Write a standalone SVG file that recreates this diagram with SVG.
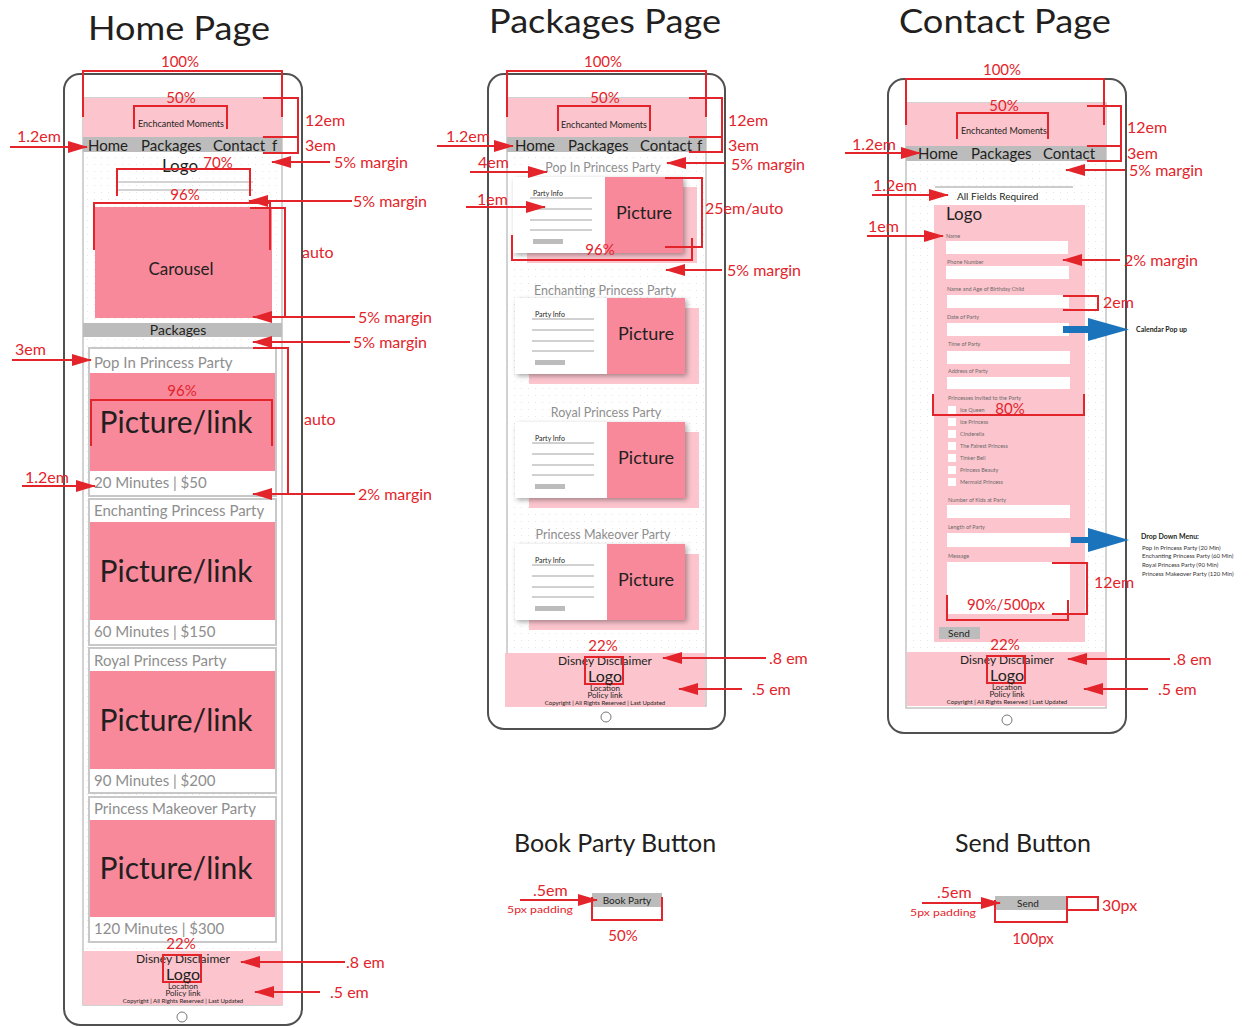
<svg xmlns="http://www.w3.org/2000/svg" xmlns:xlink="http://www.w3.org/1999/xlink" width="1252" height="1027" viewBox="0 0 1252 1027">
  <style>
    text { font-family: Lato, "Liberation Sans", sans-serif; fill: #231f20; }
    .title { font-size: 33px; text-anchor: middle; }
    .ann { fill: #e3242b; font-size: 16px; }
    .annc { fill: #e3242b; font-size: 15px; text-anchor: middle; }
    .pad { fill: #e3242b; font-size: 9px; }
    .dim { fill: none; stroke: #e3242b; stroke-width: 2; }
    .arrow { fill: none; stroke: #e3242b; stroke-width: 2; marker-end: url(#head); }
    .phone { fill: #fff; stroke: #505050; stroke-width: 2; }
    .screen { fill: url(#dots); stroke: #c4c4c4; stroke-width: 1.5; }
    .header { fill: #fcc4cd; }
    .nav { fill: #bcbcbc; }
    .navtxt { font-size: 15px; }
    .brand { font-size: 9px; text-anchor: middle; }
    .pink { fill: #f8899b; }
    .card { fill: #fff; stroke: #c8c8c8; stroke-width: 2; }
    .ctitle { fill: #8e8e8e; font-size: 15px; }
    .ptitle { fill: #8e8e8e; font-size: 12.5px; text-anchor: middle; }
    .piclink { font-size: 30px; text-anchor: middle; }
    .flabel { fill: #6b6b6b; font-size: 5.5px; }
    .field { fill: #fff; }
    .blue { fill: #1b74bb; }
    .note { font-size: 6px; fill: #333; }
  </style>
  <defs>
    <pattern id="dots" width="7" height="7" patternUnits="userSpaceOnUse">
      <rect width="7" height="7" fill="#fff"/>
      <circle cx="3.5" cy="3.5" r="0.6" fill="#e2e2e2"/>
    </pattern>
    <marker id="head" markerWidth="20" markerHeight="12" refX="19" refY="6" orient="auto" markerUnits="userSpaceOnUse">
      <path d="M0,0 L20,6 L0,12 Z" fill="#e3242b"/>
    </marker>
    <filter id="cardShadow" x="-20%" y="-20%" width="150%" height="150%">
      <feDropShadow dx="2" dy="2" stdDeviation="2.5" flood-color="#000" flood-opacity="0.35"/>
    </filter>
    <!-- package card: info panel, picture, offset pink backing -->
    <g id="pkgCard">
      <rect x="14" y="10" width="170" height="76" fill="#fcc4cd"/>
      <rect x="0" y="0" width="170" height="76" fill="#fff" filter="url(#cardShadow)"/>
      <rect x="92" y="0" width="78" height="76" class="pink"/>
      <text x="20" y="19" font-size="7">Party Info</text>
      <g stroke="#8a8a8a" stroke-width="0.8">
        <line x1="17" y1="21" x2="79" y2="21"/>
        <line x1="17" y1="32" x2="79" y2="32"/>
        <line x1="17" y1="43" x2="79" y2="43"/>
        <line x1="17" y1="53" x2="79" y2="53"/>
      </g>
      <rect x="20" y="62" width="30" height="5" fill="#bcbcbc"/>
      <text x="131" y="42" font-size="18" text-anchor="middle">Picture</text>
    </g>
    <!-- shared page footer -->
    <g id="footer">
      <rect x="0" y="0" width="200" height="54" fill="#fcc4cd"/>
      <text x="98" y="-2" class="annc" font-size="14">22%</text>
      <text x="100" y="12" font-size="12" text-anchor="middle">Disney Disclaimer</text>
      <rect x="80" y="4" width="38" height="27" class="dim"/>
      <text x="100" y="29" font-size="16" text-anchor="middle">Logo</text>
      <text x="100" y="38" font-size="8" text-anchor="middle">Location</text>
      <text x="100" y="45" font-size="8" text-anchor="middle">Policy link</text>
      <text x="100" y="52" font-size="6" text-anchor="middle">Copyright | All Rights Reserved | Last Updated</text>
    </g>
  </defs>

  <rect width="1252" height="1027" fill="#fff"/>

  <!-- ============ HOME PAGE ============ -->
  <g id="home-page">
    <text x="179" y="40" class="title" textLength="182" lengthAdjust="spacingAndGlyphs">Home Page</text>
    <rect x="64" y="74" width="238" height="951" rx="16" class="phone"/>
    <rect x="83" y="98" width="199" height="907" class="screen"/>
    <rect x="83" y="98" width="199" height="39" class="header"/>
    <text x="181" y="127" class="brand">Enchcanted Moments</text>
    <rect x="83" y="137" width="199" height="15" class="nav"/>
    <text x="88" y="151" class="navtxt">Home</text>
    <text x="141" y="151" class="navtxt">Packages</text>
    <text x="213" y="151" class="navtxt">Contact</text>
    <text x="272" y="151" class="navtxt">f</text>
    <text x="180" y="172" font-size="17" text-anchor="middle">Logo</text>
    <g stroke="#a8a8a8" stroke-width="1">
      <line x1="117" y1="182" x2="253" y2="182"/>
      <line x1="117" y1="190" x2="253" y2="190"/>
    </g>
    <rect x="95" y="207" width="177" height="111" class="pink"/>
    <text x="181" y="275" font-size="17" text-anchor="middle">Carousel</text>
    <rect x="83" y="323" width="199" height="14" class="nav"/>
    <text x="178" y="335" font-size="14" text-anchor="middle">Packages</text>

    <g id="home-card-1">
      <rect x="89" y="348" width="187" height="148" class="card"/>
      <text x="94" y="368" class="ctitle">Pop In Princess Party</text>
      <rect x="90" y="373" width="185" height="98" class="pink"/>
      <text x="176" y="433" class="piclink">Picture/link</text>
      <text x="94" y="488" class="ctitle" font-size="14">20 Minutes | $50</text>
    </g>
    <g id="home-card-2">
      <rect x="89" y="499" width="187" height="146" class="card"/>
      <text x="94" y="516" class="ctitle">Enchanting Princess Party</text>
      <rect x="90" y="522" width="185" height="98" class="pink"/>
      <text x="176" y="582" class="piclink">Picture/link</text>
      <text x="94" y="637" class="ctitle" font-size="14">60 Minutes | $150</text>
    </g>
    <g id="home-card-3">
      <rect x="89" y="648" width="187" height="145" class="card"/>
      <text x="94" y="666" class="ctitle">Royal Princess Party</text>
      <rect x="90" y="671" width="185" height="98" class="pink"/>
      <text x="176" y="731" class="piclink">Picture/link</text>
      <text x="94" y="786" class="ctitle" font-size="14">90 Minutes | $200</text>
    </g>
    <g id="home-card-4">
      <rect x="89" y="797" width="187" height="145" class="card"/>
      <text x="94" y="814" class="ctitle">Princess Makeover Party</text>
      <rect x="90" y="820" width="185" height="97" class="pink"/>
      <text x="176" y="879" class="piclink">Picture/link</text>
      <text x="94" y="934" class="ctitle" font-size="14">120 Minutes | $300</text>
    </g>
    <use href="#footer" x="83" y="951"/>
    <circle cx="182" cy="1017" r="5" fill="none" stroke="#777" stroke-width="1"/>
  </g>

  <!-- ============ PACKAGES PAGE ============ -->
  <g id="packages-page">
    <text x="605" y="33" class="title" textLength="232" lengthAdjust="spacingAndGlyphs">Packages Page</text>
    <rect x="488" y="74" width="237" height="655" rx="16" class="phone"/>
    <rect x="507" y="98" width="199" height="608" class="screen"/>
    <rect x="507" y="98" width="199" height="39" class="header"/>
    <text x="604" y="128" class="brand">Enchcanted Moments</text>
    <rect x="507" y="137" width="199" height="15" class="nav"/>
    <text x="515" y="151" class="navtxt">Home</text>
    <text x="568" y="151" class="navtxt">Packages</text>
    <text x="640" y="151" class="navtxt">Contact</text>
    <text x="697" y="151" class="navtxt">f</text>

    <text x="603" y="172" class="ptitle">Pop In Princess Party</text>
    <use href="#pkgCard" x="513" y="177"/>
    <text x="605" y="295" class="ptitle">Enchanting Princess Party</text>
    <use href="#pkgCard" x="515" y="298"/>
    <text x="606" y="417" class="ptitle">Royal Princess Party</text>
    <use href="#pkgCard" x="515" y="422"/>
    <text x="603" y="539" class="ptitle">Princess Makeover Party</text>
    <use href="#pkgCard" x="515" y="544"/>

    <use href="#footer" x="505" y="653"/>
    <circle cx="606" cy="717" r="5" fill="none" stroke="#777" stroke-width="1"/>
  </g>

  <!-- ============ CONTACT PAGE ============ -->
  <g id="contact-page">
    <text x="1005" y="33" class="title" textLength="212" lengthAdjust="spacingAndGlyphs">Contact Page</text>
    <rect x="888" y="79" width="238" height="654" rx="16" class="phone"/>
    <rect x="906" y="103" width="200" height="605" class="screen"/>
    <rect x="906" y="103" width="200" height="43" class="header"/>
    <text x="1004" y="134" class="brand">Enchcanted Moments</text>
    <rect x="906" y="146" width="200" height="15" class="nav"/>
    <text x="918" y="159" class="navtxt">Home</text>
    <text x="971" y="159" class="navtxt">Packages</text>
    <text x="1043" y="159" class="navtxt">Contact</text>
    <line x1="935" y1="187" x2="1073" y2="187" stroke="#9a9a9a" stroke-width="1"/>
    <text x="957" y="200" font-size="10">All Fields Required</text>

    <g id="contact-form">
      <rect x="934" y="205" width="151" height="437" fill="#fcc4cd"/>
      <text x="946" y="220" font-size="17">Logo</text>
      <text x="946" y="238" class="flabel">Name</text>
      <rect x="946" y="241" width="122" height="13" class="field"/>
      <text x="947" y="264" class="flabel">Phone Number</text>
      <rect x="946" y="266" width="123" height="13" class="field"/>
      <text x="947" y="291" class="flabel">Name and Age of Birthday Child</text>
      <rect x="947" y="295" width="122" height="13" class="field"/>
      <text x="947" y="319" class="flabel">Date of Party</text>
      <rect x="947" y="323" width="122" height="13" class="field"/>
      <text x="948" y="346" class="flabel">Time of Party</text>
      <rect x="947" y="351" width="123" height="13" class="field"/>
      <text x="948" y="373" class="flabel">Address of Party</text>
      <rect x="947" y="377" width="123" height="12" class="field"/>
      <text x="948" y="400" class="flabel">Princesses Invited to the Party</text>
      <g class="field">
        <rect x="948" y="406" width="8" height="8"/>
        <rect x="948" y="418" width="8" height="8"/>
        <rect x="948" y="430" width="8" height="8"/>
        <rect x="948" y="442" width="8" height="8"/>
        <rect x="948" y="454" width="8" height="8"/>
        <rect x="948" y="466" width="8" height="8"/>
        <rect x="948" y="478" width="8" height="8"/>
      </g>
      <text x="960" y="412" class="flabel">Ice Queen</text>
      <text x="960" y="424" class="flabel">Ice Princess</text>
      <text x="960" y="436" class="flabel">Cinderella</text>
      <text x="960" y="448" class="flabel">The Fairest Princess</text>
      <text x="960" y="460" class="flabel">Tinker Bell</text>
      <text x="960" y="472" class="flabel">Princess Beauty</text>
      <text x="960" y="484" class="flabel">Mermaid Princess</text>
      <text x="948" y="502" class="flabel">Number of Kids at Party</text>
      <rect x="947" y="505" width="123" height="13" class="field"/>
      <text x="948" y="529" class="flabel">Length of Party</text>
      <rect x="947" y="533" width="123" height="14" class="field"/>
      <text x="948" y="558" class="flabel">Message</text>
      <rect x="947" y="562" width="123" height="52" class="field"/>
      <rect x="939" y="627" width="41" height="12" class="nav"/>
      <text x="959" y="636.5" font-size="10" text-anchor="middle">Send</text>
    </g>

    <use href="#footer" x="907" y="652"/>
    <circle cx="1007" cy="720" r="5" fill="none" stroke="#777" stroke-width="1"/>

    <g id="calendar-note">
      <rect x="1063" y="326" width="30" height="7" class="blue"/>
      <path d="M1088,318 L1129,329.5 L1088,341 Z" class="blue"/>
      <text x="1136" y="332" font-size="7" font-weight="bold">Calendar Pop up</text>
    </g>
    <g id="dropdown-note">
      <rect x="1071" y="537" width="20" height="6" class="blue"/>
      <path d="M1088,528 L1129,540 L1088,552 Z" class="blue"/>
      <text x="1141" y="539" font-size="7" font-weight="bold">Drop Down Menu:</text>
      <text x="1142" y="550" class="note" font-size="5.5">Pop In Princess Party (20 Min)</text>
      <text x="1142" y="558" class="note" font-size="5.5">Enchanting Princess Party (60 Min)</text>
      <text x="1142" y="567" class="note" font-size="5.5">Royal Princess Party (90 Min)</text>
      <text x="1142" y="576" class="note" font-size="5.5">Princess Makeover Party (120 Min)</text>
    </g>
  </g>

  <!-- ============ BUTTON SPECS ============ -->
  <g id="book-party-button">
    <text x="615" y="852" font-size="25" text-anchor="middle">Book Party Button</text>
    <rect x="592" y="893" width="70" height="14" class="nav"/>
    <text x="627" y="903.5" font-size="10" text-anchor="middle">Book Party</text>
  </g>
  <g id="send-button">
    <text x="1023" y="852" font-size="25" text-anchor="middle">Send Button</text>
    <rect x="995" y="896" width="72" height="14" class="nav"/>
    <text x="1028" y="907" font-size="10" text-anchor="middle">Send</text>
  </g>

  <!-- ============ DIMENSION BRACKETS & LABELS ============ -->
  <g id="dimensions">
    <!-- home -->
    <path class="dim" d="M83,117 V71 H282 V117"/>
    <text x="180" y="67" class="annc">100%</text>
    <path class="dim" d="M134,129 V106 H227 V129"/>
    <text x="181" y="103" class="annc">50%</text>
    <path class="dim" d="M263,98 H298 V153 H263 M263,137 H298"/>
    <text x="305" y="126" class="ann">12em</text>
    <text x="305" y="151" class="ann">3em</text>
    <path class="dim" d="M117,196 V169 H250 V196"/>
    <text x="218" y="168" class="annc" font-size="14">70%</text>
    <path class="dim" d="M94,250 V203 H270 V250"/>
    <text x="185" y="200" class="annc">96%</text>
    <path class="dim" d="M250,208 H285 V316"/>
    <text x="302" y="258" class="ann">auto</text>
    <path class="dim" d="M91,446 V400 H272 V446"/>
    <text x="182" y="396" class="annc">96%</text>
    <path class="dim" d="M253,348 H288 V494"/>
    <text x="304" y="425" class="ann">auto</text>
    <text x="17" y="142" class="ann">1.2em</text>
    <text x="15" y="355" class="ann">3em</text>
    <text x="25" y="483" class="ann">1.2em</text>
    <text x="334" y="168" class="ann">5% margin</text>
    <text x="353" y="207" class="ann">5% margin</text>
    <text x="358" y="323" class="ann">5% margin</text>
    <text x="353" y="348" class="ann">5% margin</text>
    <text x="358" y="500" class="ann">2% margin</text>
    <text x="346" y="968" class="ann">.8 em</text>
    <text x="330" y="998" class="ann">.5 em</text>

    <!-- packages -->
    <path class="dim" d="M507,117 V71 H706 V117"/>
    <text x="603" y="67" class="annc">100%</text>
    <path class="dim" d="M558,131 V106 H650 V131"/>
    <text x="605" y="103" class="annc">50%</text>
    <path class="dim" d="M689,98 H722 V152 H689 M689,137 H722"/>
    <text x="728" y="126" class="ann">12em</text>
    <text x="728" y="151" class="ann">3em</text>
    <path class="dim" d="M665,178 H702 V247 H665"/>
    <text x="705" y="214" class="ann">25em/auto</text>
    <path class="dim" d="M512,235 V260 H692 V238"/>
    <text x="600" y="255" class="annc">96%</text>
    <text x="446" y="142" class="ann">1.2em</text>
    <text x="478" y="168" class="ann">4em</text>
    <text x="477" y="205" class="ann">1em</text>
    <text x="731" y="170" class="ann">5% margin</text>
    <text x="727" y="276" class="ann">5% margin</text>
    <text x="769" y="664" class="ann">.8 em</text>
    <text x="752" y="695" class="ann">.5 em</text>

    <!-- contact -->
    <path class="dim" d="M906,125 V79 H1104 V125"/>
    <text x="1002" y="75" class="annc">100%</text>
    <path class="dim" d="M957,139 V113 H1048 V139"/>
    <text x="1004" y="111" class="annc">50%</text>
    <path class="dim" d="M1087,106 H1121 V161 H1087 M1087,146 H1121"/>
    <text x="1127" y="133" class="ann">12em</text>
    <text x="1127" y="159" class="ann">3em</text>
    <path class="dim" d="M1063,296 H1098 V310 H1063"/>
    <text x="1103" y="308" class="ann">2em</text>
    <path class="dim" d="M933,394 V415 H1084 V394"/>
    <text x="1010" y="414" class="annc" font-size="16">80%</text>
    <path class="dim" d="M1052,563 H1087 V614 H1052"/>
    <text x="1094" y="588" class="ann">12em</text>
    <path class="dim" d="M947,595 V620 H1068 V600"/>
    <text x="1006" y="610" class="annc" font-size="16">90%/500px</text>
    <text x="852" y="150" class="ann">1.2em</text>
    <text x="873" y="191" class="ann">1.2em</text>
    <text x="868" y="232" class="ann">1em</text>
    <text x="1129" y="176" class="ann">5% margin</text>
    <text x="1124" y="266" class="ann">2% margin</text>
    <text x="1173" y="665" class="ann">.8 em</text>
    <text x="1158" y="695" class="ann">.5 em</text>

    <!-- buttons -->
    <path class="dim" d="M592,897 V920 H662 V897"/>
    <text x="623" y="941" class="annc">50%</text>
    <text x="533" y="896" class="ann" font-size="15">.5em</text>
    <text x="507" y="913" class="pad" textLength="66" lengthAdjust="spacingAndGlyphs">5px padding</text>
    <path class="dim" d="M995,900 V922 H1067 V897 H1098 V910 H1067"/>
    <text x="1102" y="911" class="ann">30px</text>
    <text x="1033" y="944" class="annc">100px</text>
    <text x="937" y="898" class="ann" font-size="15">.5em</text>
    <text x="910" y="916" class="pad" textLength="66" lengthAdjust="spacingAndGlyphs">5px padding</text>
  </g>

  <!-- ============ CONNECTORS ============ -->
  <g id="connectors">
    <!-- home -->
    <path class="arrow" d="M10,147 H87"/>
    <path class="arrow" d="M330,162 H272"/>
    <path class="arrow" d="M352,201 H249"/>
    <path class="arrow" d="M355,317 H253"/>
    <path class="arrow" d="M350,342 H253"/>
    <path class="arrow" d="M12,360 H91"/>
    <path class="arrow" d="M22,486 H95"/>
    <path class="arrow" d="M355,494 H253"/>
    <path class="arrow" d="M345,962 H241"/>
    <path class="arrow" d="M320,992 H255"/>
    <!-- packages -->
    <path class="arrow" d="M437,146 H513"/>
    <path class="arrow" d="M470,172 H547"/>
    <path class="arrow" d="M466,207 H545"/>
    <path class="arrow" d="M725,163 H667"/>
    <path class="arrow" d="M722,270 H666"/>
    <path class="arrow" d="M766,658 H663"/>
    <path class="arrow" d="M742,689 H679"/>
    <!-- contact -->
    <path class="arrow" d="M845,153 H920"/>
    <path class="arrow" d="M872,195 H948"/>
    <path class="arrow" d="M867,236 H943"/>
    <path class="arrow" d="M1125,170 H1066"/>
    <path class="arrow" d="M1120,260 H1063"/>
    <path class="arrow" d="M1170,659 H1068"/>
    <path class="arrow" d="M1148,689 H1084"/>
    <!-- buttons -->
    <path class="arrow" d="M520,900 H597"/>
    <path class="arrow" d="M922,903 H1000"/>
  </g>
</svg>
